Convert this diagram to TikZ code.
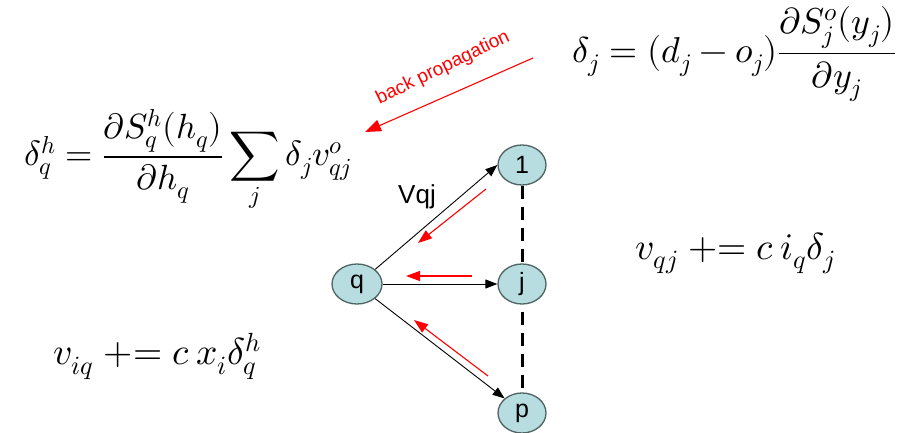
\documentclass[tikz,border=0pt]{standalone}
\usepackage{fontspec}
\usepackage{unicode-math}
\setmathfont{Latin Modern Math}
\setsansfont{Liberation Sans}
\usetikzlibrary{shapes.geometric,arrows.meta,backgrounds}
\definecolor{nodefill}{RGB}{183,221,224}
\definecolor{nodeborder}{RGB}{80,100,100}
\definecolor{bpred}{RGB}{255,0,0}
\tikzset{
  neuron/.style={ellipse, draw=nodeborder, fill=nodefill, line width=1.3pt,
    minimum width=48pt, minimum height=40pt, inner sep=0pt,
    font=\sffamily\fontsize{25}{25}\selectfont},
  fwd/.style={draw=black, line width=0.9pt, -{Triangle[length=12pt,width=9pt]}},
  bwd/.style={draw=bpred, line width=1.1pt, -{Triangle[length=14pt,width=10pt]}},
  eq/.style={inner sep=0pt, font=\fontsize{36}{38}\selectfont},
  eqsmall/.style={inner sep=0pt, font=\fontsize{37.5}{40}\selectfont},
  dashedlink/.style={draw=black, line width=3pt, dash pattern=on 13pt off 8pt}
}
\begin{document}
\begin{tikzpicture}[x=1pt,y=-1pt]
\useasboundingbox (0,0) rectangle (913,433);
% nodes
\node[neuron] (n1) at (522,165) {1};
\node[neuron] (nj) at (522,284) {j};
\node[neuron] (np) at (522,413) {p};
\node[neuron, minimum width=50pt] (nq) at (357,284) {q};
% dashed link
\begin{scope}[on background layer]
\draw[dashedlink] (n1.south) -- (np.north);
\end{scope}
% forward arrows
\draw[fwd] (nq.north east) -- (n1.west);
\draw[fwd] (nq.east) -- (nj.west);
\draw[fwd] (nq.south east) -- (np.north west);
\node[font=\sffamily\fontsize{26}{26}\selectfont, inner sep=0pt] (vqj) at (417,197) {Vqj};
% backward arrows
\coordinate (b1s) at (486,189); \coordinate (b1e) at (418,243);
\coordinate (b2s) at (472,276); \coordinate (b2e) at (406,276);
\coordinate (b3s) at (488,376); \coordinate (b3e) at (414,320);
\draw[bwd] (b1s) -- (b1e);
\draw[bwd] (b2s) -- (b2e);
\draw[bwd] (b3s) -- (b3e);
% equations
\node[eq] (eqdj) at (734,54) {$\displaystyle \delta_j = (d_j - o_j)\frac{\partial S_j^o(y_j)}{\partial y_j}$};
\node[eq, font=\fontsize{35}{37}\selectfont] (eqdq) at (188,161) {$\displaystyle \delta_q^h = \frac{\partial S_q^h(h_q)}{\partial h_q}\sum_j \delta_j v_{qj}^o$};
\node[eqsmall] (eqvqj) at (735,253) {$v_{qj} \mathrel{+}\mathrel{=} c\, i_q \delta_j$};
\node[eqsmall] (eqviq) at (157,356) {$v_{iq} \mathrel{+}\mathrel{=} c\, x_i \delta_q^h$};
% back propagation
\coordinate (bps) at (533,58);
\coordinate (bpe) at (365,132);
\draw[bwd, -{Triangle[length=16pt,width=12pt]}] (bps) -- (bpe);
\node[text=bpred, font=\sffamily\fontsize{19}{19}\selectfont, rotate=26, inner sep=0pt] (bplabel) at (443,68) {back propagation};
\end{tikzpicture}
\end{document}
